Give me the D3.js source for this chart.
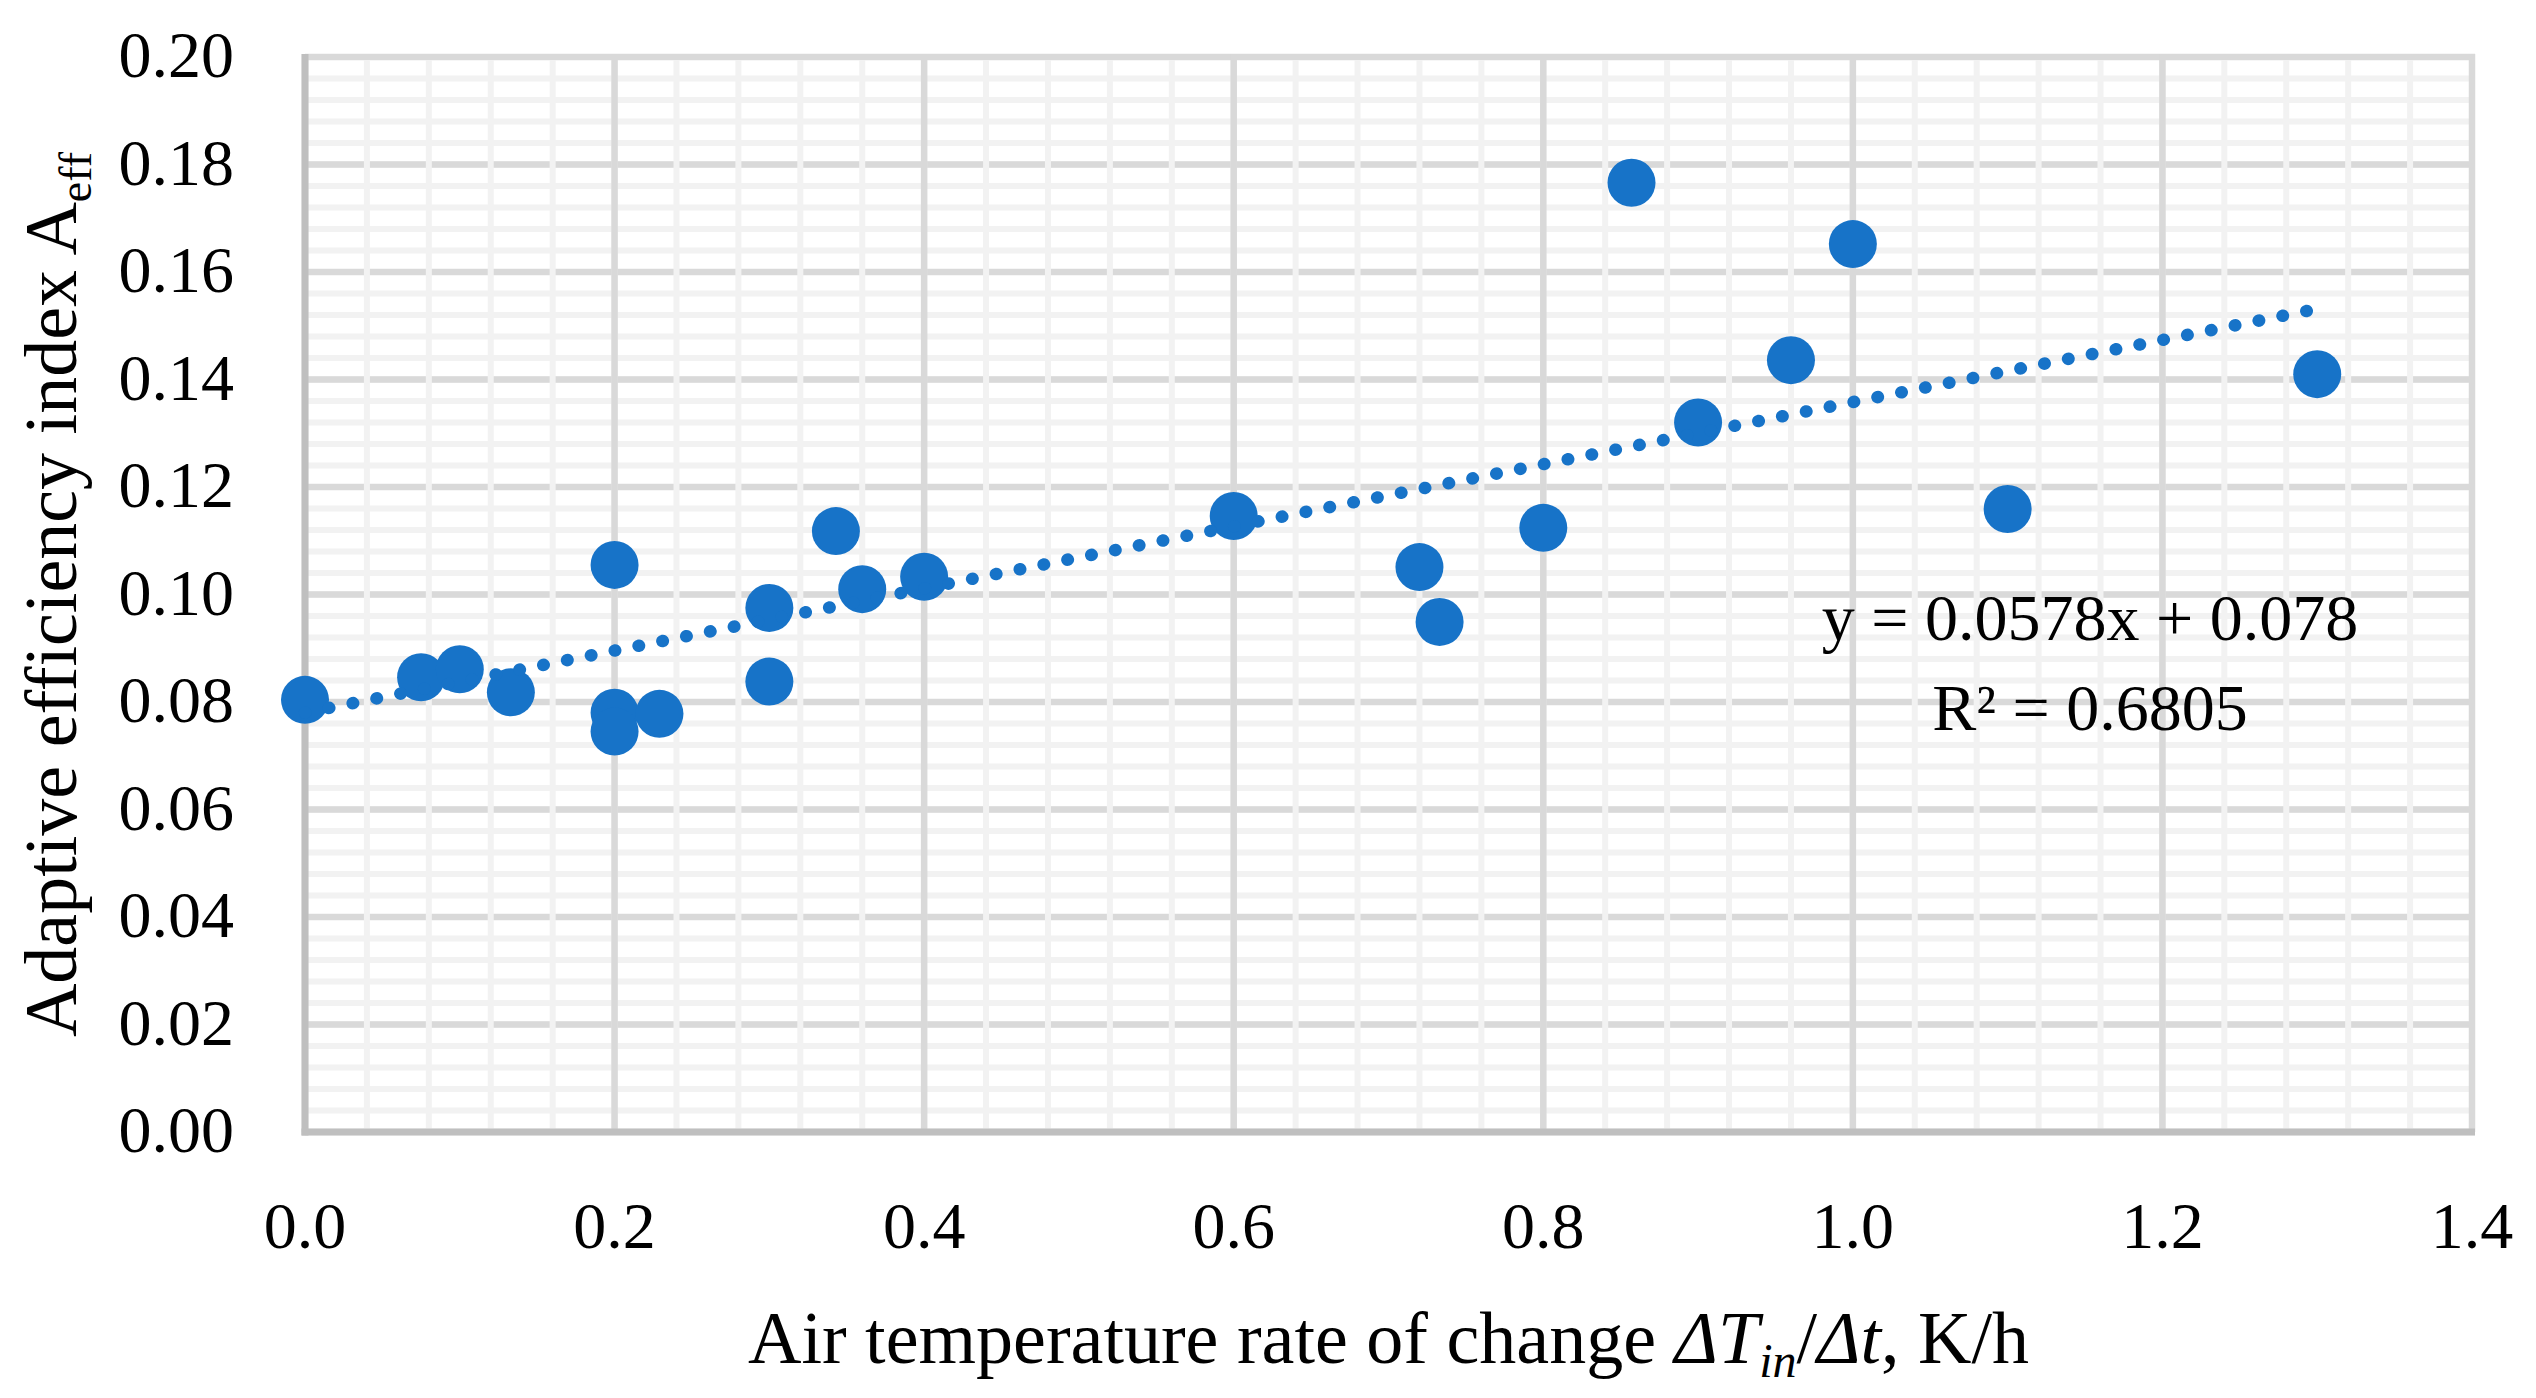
<!DOCTYPE html>
<html>
<head>
<meta charset="utf-8">
<script src="https://cdn.jsdelivr.net/npm/d3@7"></script>
<style>
  html, body { margin: 0; padding: 0; background: #ffffff; }
  svg { display: block; }
  text { font-family: "Liberation Serif", "Times New Roman", serif; fill: #000; }
</style>
</head>
<body>
<svg id="chart" width="2536" height="1398"></svg>
<script>
// ---- data ----
const xValues = [0.0, 0.075, 0.100, 0.133, 0.200, 0.200, 0.200, 0.229, 0.300, 0.300, 0.343, 0.360, 0.400, 0.600, 0.720, 0.733, 0.800, 0.857, 0.900, 0.960, 1.000, 1.100, 1.300];
const yValues = [0.0804, 0.0846, 0.0861, 0.0818, 0.1055, 0.0780, 0.0745, 0.0778, 0.0975, 0.0838, 0.1118, 0.1010, 0.1033, 0.1146, 0.1051, 0.0949, 0.1124, 0.1766, 0.1320, 0.1436, 0.1652, 0.1159, 0.1410];
const xTickValues = [0.0, 0.2, 0.4, 0.6, 0.8, 1.0, 1.2, 1.4];
const xTickLabels = ["0.0", "0.2", "0.4", "0.6", "0.8", "1.0", "1.2", "1.4"];
const yTickValues = [0.00, 0.02, 0.04, 0.06, 0.08, 0.10, 0.12, 0.14, 0.16, 0.18, 0.20];
const yTickLabels = ["0.00", "0.02", "0.04", "0.06", "0.08", "0.10", "0.12", "0.14", "0.16", "0.18", "0.20"];
const trendSlope = 0.0578;
const trendIntercept = 0.078;
const trendRange = [0.0, 1.3];
const equationLines = ["y = 0.0578x + 0.078", "R² = 0.6805"];

// ---- layout ----
const plot = { left: 305, right: 2472, top: 57, bottom: 1132 };
const x = d3.scaleLinear().domain([0, 1.4]).range([plot.left, plot.right]);
const y = d3.scaleLinear().domain([0, 0.20]).range([plot.bottom, plot.top]);

const svg = d3.select("#chart");
svg.append("rect").attr("width", 2536).attr("height", 1398).attr("fill", "#fff");

const g = svg.append("g");
const minorX = d3.range(0, 1.4 + 1e-9, 0.04);
const minorY = d3.range(0, 0.20 + 1e-9, 0.004);

// horizontal minor
g.selectAll(".hmin").data(minorY).join("line")
  .attr("x1", plot.left).attr("x2", plot.right)
  .attr("y1", d => y(d)).attr("y2", d => y(d))
  .attr("stroke", "#f2f2f2").attr("stroke-width", 6);
// horizontal major
g.selectAll(".hmaj").data(yTickValues).join("line")
  .attr("x1", plot.left).attr("x2", plot.right + 3)
  .attr("y1", d => y(d)).attr("y2", d => y(d))
  .attr("stroke", "#d9d9d9").attr("stroke-width", 6.5);
// vertical minor
g.selectAll(".vmin").data(minorX).join("line")
  .attr("y1", plot.top + 3).attr("y2", plot.bottom)
  .attr("x1", d => x(d)).attr("x2", d => x(d))
  .attr("stroke", "#f2f2f2").attr("stroke-width", 6);
// vertical major
g.selectAll(".vmaj").data(xTickValues).join("line")
  .attr("y1", plot.top - 3).attr("y2", plot.bottom)
  .attr("x1", d => x(d)).attr("x2", d => x(d))
  .attr("stroke", "#d9d9d9").attr("stroke-width", 6.5);

// axis lines
svg.append("line").attr("x1", plot.left).attr("x2", plot.left)
  .attr("y1", plot.top - 3).attr("y2", plot.bottom + 3.5)
  .attr("stroke", "#bfbfbf").attr("stroke-width", 7);
svg.append("line").attr("x1", plot.left - 3.5).attr("x2", plot.right + 3)
  .attr("y1", plot.bottom).attr("y2", plot.bottom)
  .attr("stroke", "#bfbfbf").attr("stroke-width", 7);

// points
const pts = xValues.map((v, i) => ({ x: v, y: yValues[i] }));
svg.append("g").selectAll("circle").data(pts).join("circle")
  .attr("cx", d => x(d.x)).attr("cy", d => y(d.y)).attr("r", 24)
  .attr("fill", "#1773c8");

// trendline
const trend = trendRange.map(v => ({ x: v, y: trendSlope * v + trendIntercept }));
svg.append("path")
  .datum(trend)
  .attr("d", d3.line().x(d => x(d.x)).y(d => y(d.y)))
  .attr("fill", "none")
  .attr("stroke", "#1773c8")
  .attr("stroke-width", 12.5)
  .attr("stroke-linecap", "round")
  .attr("stroke-dasharray", "0.5 23.8");

// tick labels
svg.append("g").selectAll("text").data(yTickValues).join("text")
  .attr("x", 234).attr("y", d => y(d) + 20)
  .attr("text-anchor", "end").attr("font-size", 66)
  .text((d, i) => yTickLabels[i]);
svg.append("g").selectAll("text").data(xTickValues).join("text")
  .attr("x", d => x(d)).attr("y", 1248)
  .attr("text-anchor", "middle").attr("font-size", 66)
  .text((d, i) => xTickLabels[i]);

// x axis title
const xt = svg.append("text")
  .attr("x", (plot.left + plot.right) / 2).attr("y", 1363)
  .attr("text-anchor", "middle").attr("font-size", 74);
xt.append("tspan").text("Air temperature rate of change ");
xt.append("tspan").attr("font-style", "italic").text("ΔT");
xt.append("tspan").attr("font-style", "italic").attr("font-size", 48).attr("dy", 14).text("in");
xt.append("tspan").attr("dy", -14).text("/");
xt.append("tspan").attr("font-style", "italic").text("Δt");
xt.append("tspan").text(", K/h");

// y axis title
const yt = svg.append("text")
  .attr("transform", `translate(76, ${(plot.top + plot.bottom) / 2}) rotate(-90)`)
  .attr("text-anchor", "middle").attr("font-size", 74);
yt.append("tspan").text("Adaptive efficiency index A");
yt.append("tspan").attr("font-size", 46).attr("dy", 15).text("eff");

// equation
svg.append("g").selectAll("text").data(equationLines).join("text")
  .attr("x", 2090).attr("y", (d, i) => 640 + i * 90)
  .attr("text-anchor", "middle").attr("font-size", 66)
  .text(d => d);
</script>
</body>
</html>
